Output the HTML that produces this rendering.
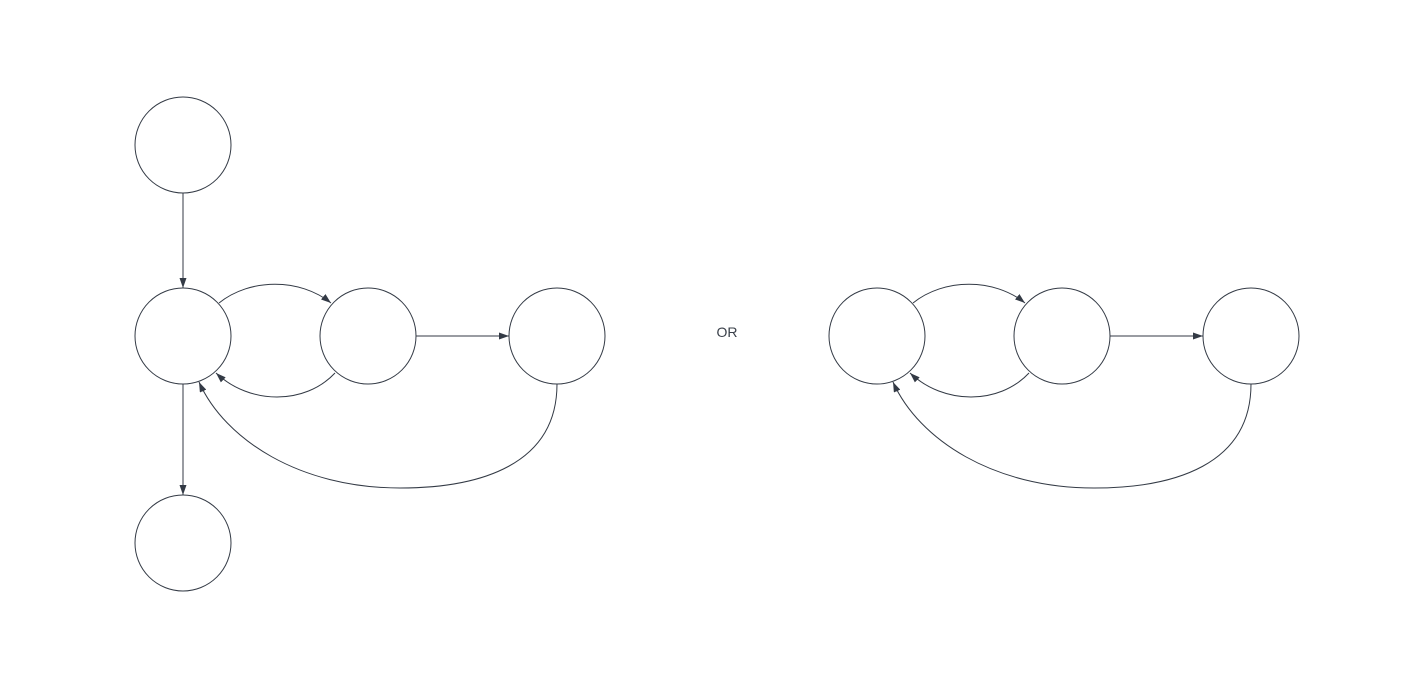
<!DOCTYPE html>
<html><head><meta charset="utf-8"><style>
html,body{margin:0;padding:0;background:#fff;}
svg{display:block;}
</style></head><body>
<svg width="1427" height="687" viewBox="0 0 1427 687" xmlns="http://www.w3.org/2000/svg">
<defs>
<marker id="ah" viewBox="0 0 10 7" refX="10" refY="3.5" markerWidth="10" markerHeight="7" markerUnits="userSpaceOnUse" orient="auto">
<path d="M0,0 L10,3.5 L0,7 Z" fill="#333a45"/>
</marker>
</defs>
<g fill="none" stroke="#333a45" stroke-width="1">
<g>
<circle cx="183" cy="145" r="48"/>
<circle cx="183" cy="336" r="48"/>
<circle cx="368" cy="336" r="48"/>
<circle cx="557" cy="336" r="48"/>
<circle cx="183" cy="543" r="48"/>
<path d="M183,193 L183,288" marker-end="url(#ah)"/>
<path d="M219,303 C250,278 300,278 331,303" marker-end="url(#ah)"/>
<path d="M335,373 C305,405 250,405 216,373" marker-end="url(#ah)"/>
<path d="M416,336 L509,336" marker-end="url(#ah)"/>
<path d="M557,384 C557,465 480,488 400,488 C300,488 225,440 199,382" marker-end="url(#ah)"/>
<path d="M183,384 L183,495" marker-end="url(#ah)"/>
</g>
<g transform="translate(694,0)">
<circle cx="183" cy="336" r="48"/>
<circle cx="368" cy="336" r="48"/>
<circle cx="557" cy="336" r="48"/>
<path d="M219,303 C250,278 300,278 331,303" marker-end="url(#ah)"/>
<path d="M335,373 C305,405 250,405 216,373" marker-end="url(#ah)"/>
<path d="M416,336 L509,336" marker-end="url(#ah)"/>
<path d="M557,384 C557,465 480,488 400,488 C300,488 225,440 199,382" marker-end="url(#ah)"/>
</g>
</g>
<text x="727" y="337" text-anchor="middle" font-family="'Liberation Sans', sans-serif" font-size="14" fill="#3a404a">OR</text>
</svg>
</body></html>
